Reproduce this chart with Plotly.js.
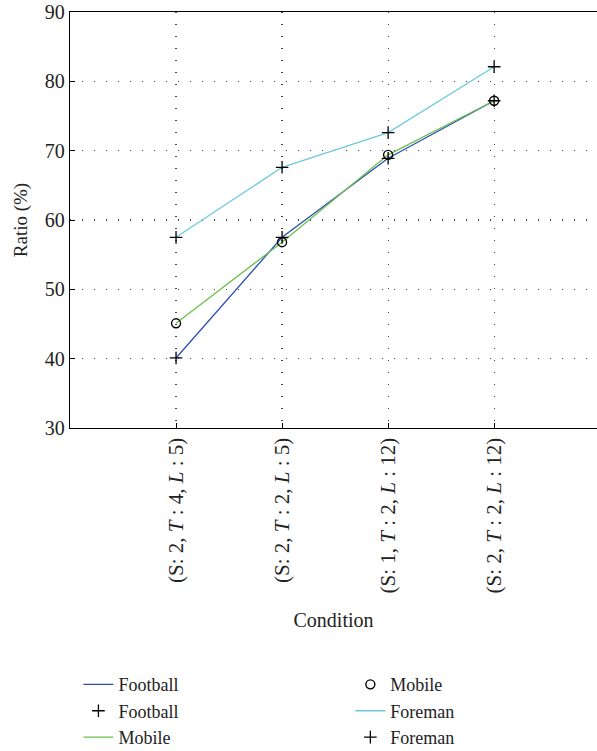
<!DOCTYPE html>
<html>
<head>
<meta charset="utf-8">
<script src="https://cdn.plot.ly/plotly-3.0.1.min.js"></script>
<style>html,body{margin:0;padding:0;background:#fff;}#chart{width:597px;height:751px;}</style>
</head>
<body>
<div id="chart"></div>
<script>
const conditionIndex = [1, 2, 3, 4];
const conditionLabels = [
  "(S: 2, <i>T</i> : 4, <i>L</i> : 5)",
  "(S: 2, <i>T</i> : 2, <i>L</i> : 5)",
  "(S: 1, <i>T</i> : 2, <i>L</i> : 12)",
  "(S: 2, <i>T</i> : 2, <i>L</i> : 12)"
];
const footballRatio = [40.1, 57.5, 68.9, 77.2];
const mobileRatio = [45.1, 56.8, 69.4, 77.2];
const foremanRatio = [57.5, 67.6, 72.6, 82.1];

const FONT = "Liberation Serif, Times New Roman, serif";
const TXT = "#222";
const plusMarker = {symbol: "cross-thin-open", size: 9, color: "#000", line: {color: "#000", width: 1.3}};
const circMarker = {symbol: "circle-open", size: 9, color: "#000", line: {color: "#000", width: 1.4}};

const traces = [
  {x: conditionIndex, y: footballRatio, mode: "lines", name: "Football", line: {color: "#2b4fb8", width: 1.3}, legend: "legend", legendrank: 1},
  {x: conditionIndex, y: mobileRatio, mode: "lines", name: "Mobile", line: {color: "#6cc24a", width: 1.3}, legend: "legend", legendrank: 3},
  {x: conditionIndex, y: foremanRatio, mode: "lines", name: "Foreman", line: {color: "#6ccbd8", width: 1.3}, legend: "legend2", legendrank: 5},
  {x: conditionIndex, y: footballRatio, mode: "markers", name: "Football", marker: plusMarker, legend: "legend", legendrank: 2},
  {x: conditionIndex, y: mobileRatio, mode: "markers", name: "Mobile", marker: circMarker, legend: "legend2", legendrank: 4},
  {x: conditionIndex, y: foremanRatio, mode: "markers", name: "Foreman", marker: plusMarker, legend: "legend2", legendrank: 6}
];

const legendCommon = {
  orientation: "v", yref: "container", yanchor: "top", xanchor: "left", y: 0.113,
  font: {family: FONT, size: 18, color: TXT}, bgcolor: "rgba(0,0,0,0)",
  traceorder: "normal", itemwidth: 30, tracegroupgap: 0
};

const layout = {
  width: 597, height: 751,
  margin: {l: 70, r: 0, t: 12, b: 323, autoexpand: false},
  paper_bgcolor: "#fff", plot_bgcolor: "#fff",
  font: {family: FONT, size: 20, color: TXT},
  showlegend: true,
  legend: Object.assign({}, legendCommon, {x: 0.016}),
  legend2: Object.assign({}, legendCommon, {x: 0.532}),
  xaxis: {
    range: [0, 4.97], tickvals: conditionIndex, ticktext: conditionLabels, automargin: false,
    tickangle: -90, ticks: "inside", ticklen: 5, tickcolor: "#000",
    showline: true, linecolor: "#000", linewidth: 1.3, mirror: true,
    showgrid: true, gridcolor: "#444", griddash: "1.2px,10.8px", gridwidth: 1.2,
    zeroline: false, tickfont: {family: FONT, size: 21, color: TXT},
    title: {text: "Condition", font: {family: FONT, size: 20, color: TXT}, standoff: 20}
  },
  yaxis: {
    range: [30, 90], dtick: 10, ticks: "inside", ticklen: 5, tickcolor: "#000", automargin: false,
    showline: true, linecolor: "#000", linewidth: 1.3, mirror: false,
    showgrid: true, gridcolor: "#444", griddash: "1.2px,10.8px", gridwidth: 1.2,
    zeroline: false, tickfont: {family: FONT, size: 20, color: TXT},
    title: {text: "Ratio (%)", font: {family: FONT, size: 19, color: TXT}, standoff: 12}
  }
};

Plotly.newPlot("chart", traces, layout, {displayModeBar: false, staticPlot: true});
</script>
</body>
</html>
